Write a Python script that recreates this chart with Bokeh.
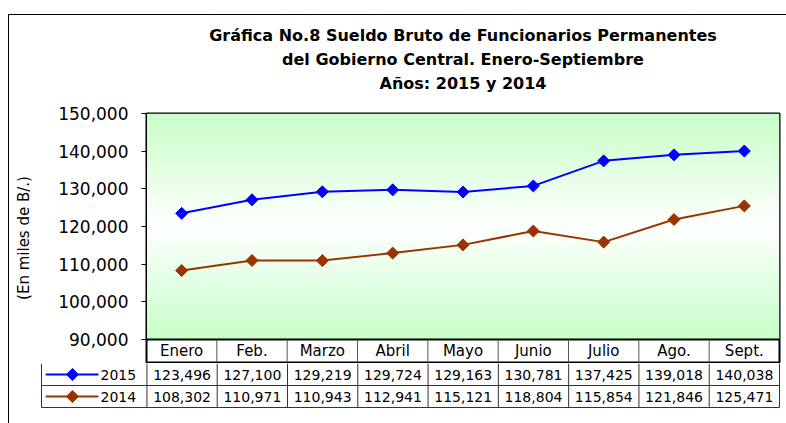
import numpy as np
from bokeh.plotting import figure
from bokeh.models import Range1d, FixedTicker, NumeralTickFormatter, Title, ColumnDataSource, Div, Spacer
from bokeh.layouts import column, row
from bokeh.core.properties import value
from bokeh.embed import file_html
from bokeh.resources import INLINE

# ---------------- data ----------------
months = ["Enero", "Feb.", "Marzo", "Abril", "Mayo", "Junio", "Julio", "Ago.", "Sept."]
s2015 = [123496, 127100, 129219, 129724, 129163, 130781, 137425, 139018, 140038]
s2014 = [108302, 110971, 110943, 112941, 115121, 118804, 115854, 121846, 125471]
series_names = ["2015", "2014"]
series_colors = ["#0000FF", "#993300"]
y_ticks = [90000, 100000, 110000, 120000, 130000, 140000, 150000]
title_lines = ["Gráfica No.8 Sueldo Bruto de Funcionarios Permanentes",
               "del Gobierno Central. Enero-Septiembre",
               "Años: 2015 y 2014"]
y_label = "(En miles de B/.)"

FONT = "DejaVu Sans"
n = len(months)
xs = [i + 0.5 for i in range(n)]
y_lo, y_hi = y_ticks[0], y_ticks[-1]
plot_px, header_px = 226, 23
y_start = y_lo - (y_hi - y_lo) * header_px / plot_px

W = 777

# ---------------- main chart ----------------
p = figure(width=W, height=348, x_range=Range1d(0, n), y_range=Range1d(y_start, y_hi),
           output_backend="svg", toolbar_location=None, title=None,
           x_axis_location=None, min_border_left=137, min_border_right=7,
           min_border_top=98, min_border_bottom=1)
p.frame_align = False
p.outline_line_color = "black"
p.outline_line_width = 2
p.grid.visible = False
p.background_fill_color = "white"

# gradient background (green - white - green)
rows = plot_px
t = np.abs(np.linspace(-1, 1, rows))
green = np.array([200, 255, 200])
cols = (255 * (1 - t)[:, None] + green[None, :] * t[:, None]).astype(np.uint32)
img = np.empty((rows, 2), dtype=np.uint32)
view = img.view(dtype=np.uint8).reshape((rows, 2, 4))
view[:, :, 0] = cols[:, None, 0]
view[:, :, 1] = cols[:, None, 1]
view[:, :, 2] = cols[:, None, 2]
view[:, :, 3] = 255
p.image_rgba(image=[img], x=0, y=y_lo, dw=n, dh=y_hi - y_lo)

# plot-area bottom border and header-row separators
p.segment(x0=[0], y0=[y_lo], x1=[n], y1=[y_lo], line_color="black", line_width=2)
p.segment(x0=list(range(1, n)), y0=[y_start] * (n - 1), x1=list(range(1, n)), y1=[y_lo] * (n - 1),
          line_color="#555555", line_width=1)

# header month labels
p.text(x=xs, y=[(y_start + y_lo) / 2] * n, text=months, text_font=value(FONT),
       text_font_size="15px", text_align="center", text_baseline="middle", text_color="black")

for vals, name, colr in zip([s2015, s2014], series_names, series_colors):
    src = ColumnDataSource(dict(x=xs, y=vals))
    p.line("x", "y", source=src, line_color=colr, line_width=2)
    p.scatter("x", "y", source=src, marker="square", angle=np.pi / 4, size=8.5,
              fill_color=colr, line_color=colr)

ax = p.yaxis[0]
ax.ticker = FixedTicker(ticks=y_ticks)
ax.formatter = NumeralTickFormatter(format="0,0")
ax.major_label_text_font = FONT
ax.major_label_text_font_size = "17px"
ax.major_label_text_color = "black"
ax.major_tick_in = 0
ax.major_tick_out = 5
ax.minor_tick_line_color = None
ax.major_label_standoff = 13
ax.axis_line_color = "black"
ax.axis_label = y_label
ax.axis_label_text_font = FONT
ax.axis_label_text_font_size = "15px"
ax.axis_label_text_font_style = "normal"
ax.axis_label_text_color = "black"
ax.axis_label_standoff = 22

# spacer title closest to the frame, then the three title lines
p.add_layout(Title(text=" ", text_font_size="12px", standoff=3), "above")
for txt in reversed(title_lines):
    p.add_layout(Title(text=txt, align="center", offset=-24, standoff=3,
                       text_font=FONT, text_font_size="16px", text_font_style="bold",
                       text_color="black"), "above")

# ---------------- data table ----------------
eps = 1 / 70
q = figure(width=W, height=60, x_range=Range1d(-1.5 - eps, n + eps), y_range=Range1d(-1 / 22, 2),
           output_backend="svg", toolbar_location=None, title=None,
           x_axis_location=None, y_axis_location=None,
           min_border_left=31, min_border_right=6, min_border_top=0, min_border_bottom=15)
q.frame_align = False
q.outline_line_color = None
q.grid.visible = False

vx = [-1.5] + list(range(0, n + 1))
q.segment(x0=vx, y0=[0] * len(vx), x1=vx, y1=[2] * len(vx), line_color="#333333", line_width=1)
q.segment(x0=[-1.5, -1.5], y0=[0, 1], x1=[n, n], y1=[0, 1], line_color="#333333", line_width=1)

for row_y, vals, name, colr in zip([1.5, 0.5], [s2015, s2014], series_names, series_colors):
    q.text(x=xs, y=[row_y] * n, text=[f"{v:,}" for v in vals], text_font=value(FONT),
           text_font_size="14px", text_align="center", text_baseline="middle", text_color="black")
    q.segment(x0=[-1.44], y0=[row_y], x1=[-0.69], y1=[row_y], line_color=colr, line_width=2)
    q.scatter(x=[-1.06], y=[row_y], marker="square", angle=np.pi / 4, size=8.5,
              fill_color=colr, line_color=colr)
    q.text(x=[-0.66], y=[row_y], text=[name], text_font=value(FONT), text_font_size="14px",
           text_align="left", text_baseline="middle", text_color="black")

# outer frame lines (top and left) of the chart area
hline = Div(text="", width=W + 1, height=1, margin=0, styles={"background-color": "black"})
vline = Div(text="", width=1, height=408, margin=0, styles={"background-color": "black"})
layout = column(Spacer(height=14, margin=0),
                row(Spacer(width=8, margin=0),
                    column(hline, row(vline, column(p, q)))))

open("out.html", "w").write(file_html(layout, INLINE))
